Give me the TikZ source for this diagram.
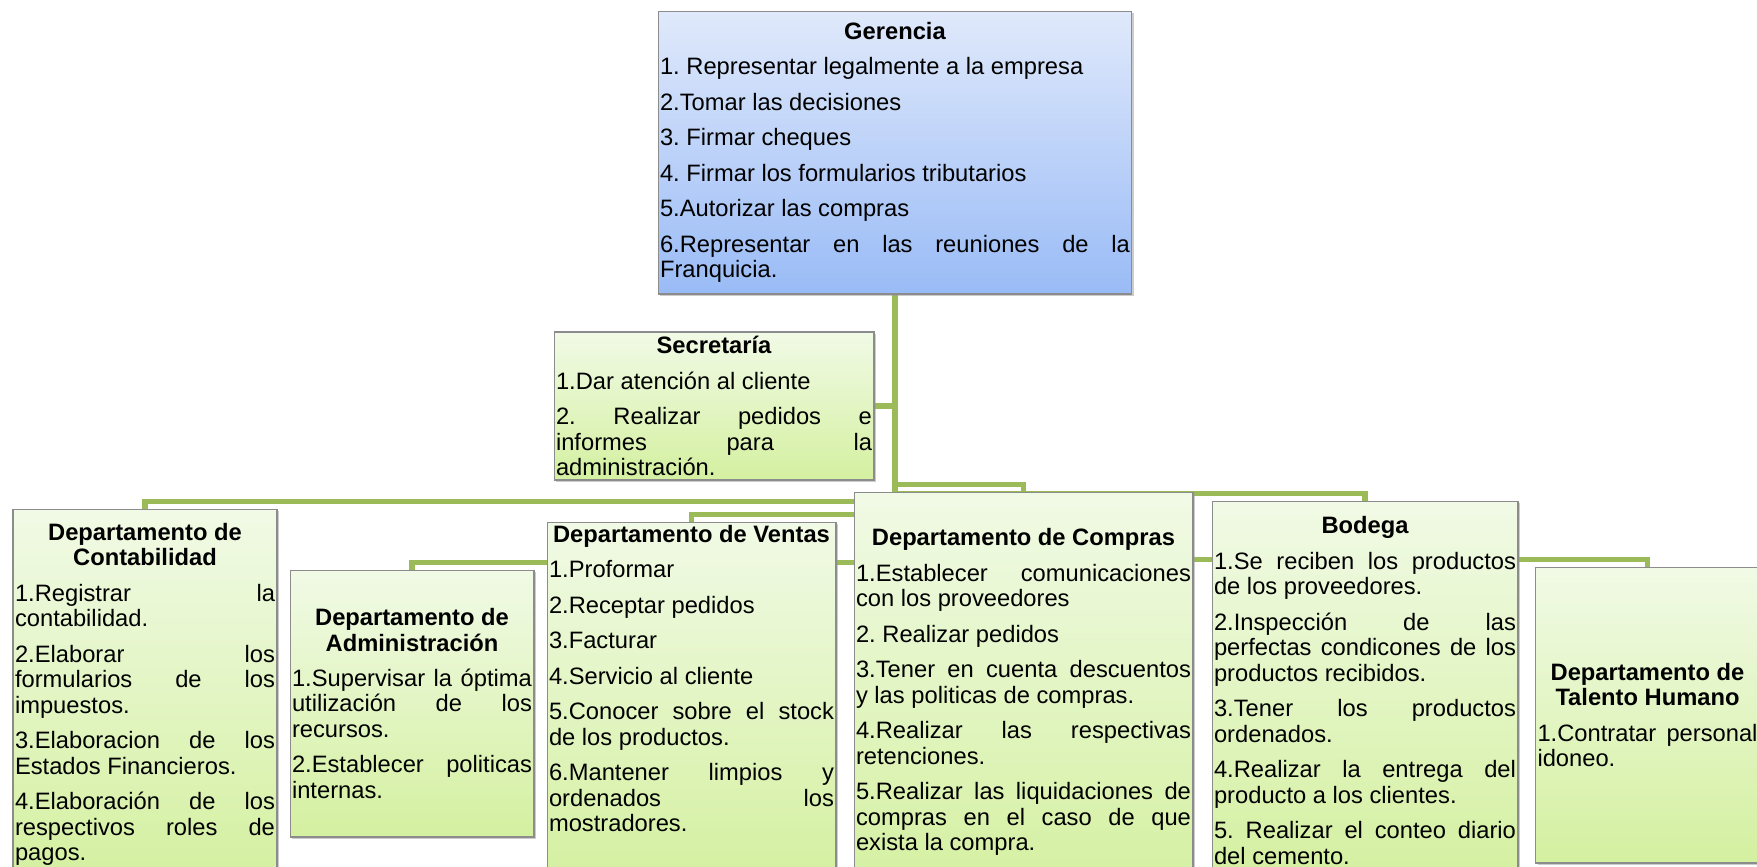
\documentclass[tikz,border=0pt]{standalone}
\usepackage{fontspec}
\setmainfont{Liberation Sans}
\usetikzlibrary{backgrounds,shadows}

\definecolor{linegreen}{RGB}{155,187,89}
\definecolor{greentop}{RGB}{241,250,230}
\definecolor{greenbot}{RGB}{212,240,160}
\definecolor{bluetop}{RGB}{224,233,251}
\definecolor{bluebot}{RGB}{153,187,246}
\definecolor{boxline}{RGB}{140,140,140}

\newcommand{\boxfont}{\fontsize{13.5}{14.5}\selectfont\frenchspacing\parskip=5.7pt\relax\parindent=0pt\relax\hyphenpenalty=10000\relax\tolerance=10000\relax}
\newcommand{\boxtitle}[1]{{\centering\bfseries #1\par}}
\newcommand{\lift}[1]{\par\rule{0pt}{#1}}

\begin{document}
\begin{tikzpicture}[x=0.02cm, y=-0.02cm]
	\tikzstyle{box} = [rectangle, draw=boxline, line width=0.6pt, inner xsep=0.04cm, inner ysep=0.05cm,
		top color=greentop, bottom color=greenbot, align=justify,
		drop shadow={shadow xshift=1.2pt, shadow yshift=-1.2pt, fill=black!40, opacity=0.5},
		font=\boxfont]
	\tikzstyle{gbox} = [box, top color=bluetop, bottom color=bluebot]
	\tikzstyle{link} = [draw=linegreen, line width=0.11cm]
	
	\useasboundingbox (0,0) rectangle (1757,866);
	\clip (0,0) rectangle (1757,866);
	
	\node[gbox, text width=9.4cm, minimum height=5.66cm] (ger) at (895,152.5) {\boxtitle{Gerencia}
		1. Representar legalmente a la empresa\par
		2.Tomar las decisiones\par
		3. Firmar cheques\par
		4. Firmar los formularios tributarios\par
		5.Autorizar las compras\par
		6.Representar en las reuniones de la \linebreak Franquicia.};
	
	\node[box, text width=6.32cm, minimum height=2.96cm] (sec) at (714,406) {\boxtitle{Secretaría}
		1.Dar atención al cliente\par
		2. Realizar pedidos e \linebreak informes para la \linebreak administración.};
	
	\node[box, text width=5.2cm, minimum height=7.42cm] (cont) at (145,694.5) {\boxtitle{Departamento de\\Contabilidad}
		1.Registrar la \linebreak contabilidad.\par
		2.Elaborar los \linebreak formularios de los \linebreak impuestos.\par
		3.Elaboracion de los \linebreak Estados Financieros.\par
		4.Elaboración de los \linebreak respectivos roles de \linebreak pagos.};
	
	\node[box, text width=4.8cm, minimum height=5.34cm] (adm) at (412,703.5) {\boxtitle{Departamento de\\Administración}
		1.Supervisar la óptima \linebreak utilización de los \linebreak recursos.\par
		2.Establecer politicas \linebreak internas.};
	
	\node[box, text width=5.7cm, minimum height=7.16cm] (ven) at (691.5,701) {\boxtitle{Departamento de Ventas}
		1.Proformar\par
		2.Receptar pedidos\par
		3.Facturar\par
		4.Servicio al cliente\par
		5.Conocer sobre el stock \linebreak de los productos.\par
		6.Mantener limpios y \linebreak ordenados los \linebreak mostradores.\lift{19pt}};
	
	\node[box, text width=6.7cm, minimum height=8cm] (com) at (1023.5,692) {\boxtitle{Departamento de Compras}
		1.Establecer comunicaciones \linebreak con los proveedores\par
		2. Realizar pedidos\par
		3.Tener en cuenta descuentos \linebreak y las politicas de compras.\par
		4.Realizar las respectivas \linebreak retenciones.\par
		5.Realizar las liquidaciones de \linebreak compras en el caso de que \linebreak exista la compra.};
	
	\node[box, text width=6.04cm, minimum height=7.58cm] (bod) at (1365,690.5) {\boxtitle{Bodega}
		1.Se reciben los productos \linebreak de los proveedores.\par
		2.Inspección de las \linebreak perfectas condicones de los \linebreak productos recibidos.\par
		3.Tener los productos \linebreak ordenados.\par
		4.Realizar la entrega del \linebreak producto a los clientes.\par
		5. Realizar el conteo diario \linebreak del cemento.};
	
	\node[box, text width=4.4cm, minimum height=5.92cm] (th) at (1647.5,715) {\boxtitle{Departamento de\\Talento Humano}
		1.Contratar personal \linebreak idoneo.};
	
	% connectors behind the boxes
	\begin{scope}[on background layer]
		\draw[link] (ger.south) |- (sec.east);
		\foreach \n in {cont,adm,ven,com,bod,th}{
			\draw[link] (ger.south) |- ([yshift=0.14cm]\n.north) -- (\n.north);
		};
	\end{scope}
\end{tikzpicture}
\end{document}
